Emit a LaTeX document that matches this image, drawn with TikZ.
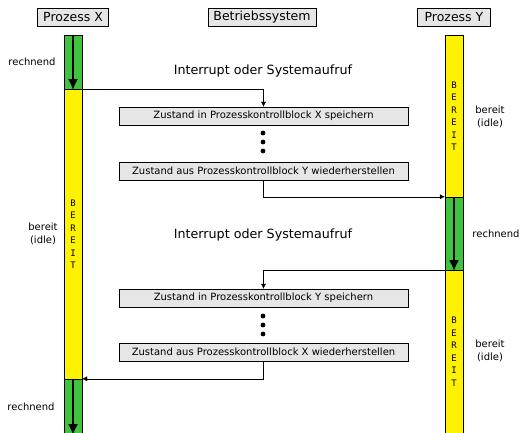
\documentclass[tikz,border=0pt]{standalone}
\usepackage{fontspec}
\setmainfont{DejaVu Sans}
\setmonofont{DejaVu Sans Mono}
\usetikzlibrary{arrows.meta}
\definecolor{rungreen}{RGB}{64,196,64}
\definecolor{boxgray}{RGB}{230,230,230}

\begin{document}
\begin{tikzpicture}[x=1pt,y=-1pt,
            head/.style = {draw, fill=boxgray, minimum width=71pt,
            minimum height=18pt, inner sep=0pt, font=\fontsize{12.5}{14}\selectfont},
            task/.style = {draw, fill=boxgray, minimum width=289pt,
            minimum height=18pt, inner sep=0pt, font=\fontsize{10}{12}\selectfont},
            run/.style = {draw, fill=rungreen, minimum width=18pt, inner sep=0pt},
            idle/.style = {draw, fill=yellow, minimum width=18pt, inner sep=0pt},
            letters/.style = {align=center, font=\ttfamily\fontsize{9}{12.5}\selectfont},
            note/.style = {align=center, font=\fontsize{10}{13}\selectfont},
            event/.style = {font=\fontsize{12.7}{14}\selectfont},
            flow/.style = {line width=2.2pt, -{Latex[length=11pt,width=10pt]}},
            link/.style = {-{Latex[length=5pt,width=5pt]}}]
        \useasboundingbox (0,0) rectangle (520,433);

        % Headers
        \node[head] (px) at (73,17) {Prozess X};
        \node[head, minimum width=108pt] (os) at (262,17) {Betriebssystem};
        \node[head, minimum width=73pt] (py) at (454,17) {Prozess Y};

        % Prozess X bar
        \node[run, minimum height=54pt] (x1) at (73,62) {};
        \node[idle, minimum height=290pt] (x2) at (73,234) {};
        \node[run, minimum height=54pt] (x3) at (73,406) {};

        % Prozess Y bar
        \node[idle, minimum height=162pt] (y1) at (454,116) {};
        \node[run, minimum height=73pt] (y2) at (454,233.5) {};
        \node[idle, minimum height=163pt] (y3) at (454,351.5) {};

        % Running arrows
        \draw[flow] (x1.north) -- ([yshift=-1pt]x1.south);
        \draw[flow] (y2.north) -- ([yshift=-1pt]y2.south);
        \draw[flow] (x3.north) -- ([yshift=-2pt]x3.south);

        % Bar labels
        \node[letters] (bx) at (x2) {B\\E\\R\\E\\I\\T};
        \node[letters] (by1) at (y1) {B\\E\\R\\E\\I\\T};
        \node[letters] (by3) at (y3) {B\\E\\R\\E\\I\\T};

        \node[note] (lx1) at (32,62) {rechnend};
        \node[note] (lx2) at (43,234) {bereit\\(idle)};
        \node[note] (lx3) at (31,407) {rechnend};
        \node[note] (ly1) at (490,117) {bereit\\(idle)};
        \node[note] (ly2) at (496,234) {rechnend};
        \node[note] (ly3) at (490,351) {bereit\\(idle)};

        % Interrupts
        \node[event] (i1) at (263,71) {Interrupt oder Systemaufruf};
        \node[event] (i2) at (263,235) {Interrupt oder Systemaufruf};

        % Context switches
        \node[task] (s1) at (263.5,116) {Zustand in Prozesskontrollblock X speichern};
        \node[task] (s2) at (263.5,171) {Zustand aus Prozesskontrollblock Y wiederherstellen};
        \node[task] (s3) at (263.5,298) {Zustand in Prozesskontrollblock Y speichern};
        \node[task] (s4) at (263.5,352) {Zustand aus Prozesskontrollblock X wiederherstellen};

        \foreach \y in {133,142,151,316,325,334}
            \fill (263,\y) circle (2.4pt);

        \draw[link] (x1.south east) -| (s1.north);
        \draw[link] (s2.south) |- (y2.north west);
        \draw[link] (y2.south west) -| (s3.north);
        \draw[link] (s4.south) |- (x3.north east);
    \end{tikzpicture}
\end{document}
